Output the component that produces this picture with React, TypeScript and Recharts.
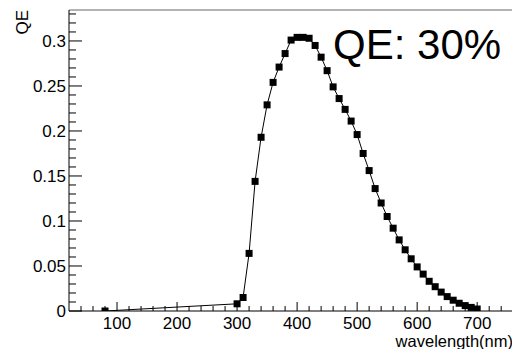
import { LineChart, Line, XAxis, YAxis, ReferenceLine } from 'recharts'

const wavelength = [
  80, 300, 310, 320, 330, 340, 350, 360, 370, 380, 390, 400, 410, 420, 430, 440, 450, 460, 470, 480,
  490, 500, 510, 520, 530, 540, 550, 560, 570, 580, 590, 600, 610, 620, 630, 640, 650, 660, 670, 680,
  690, 700,
]
const qe = [
  0, 0.008, 0.015, 0.064, 0.144, 0.193, 0.229, 0.254, 0.271, 0.286, 0.301, 0.304, 0.304, 0.303, 0.295,
  0.282, 0.267, 0.249, 0.236, 0.224, 0.211, 0.196, 0.175, 0.156, 0.136, 0.12, 0.105, 0.092, 0.079,
  0.068, 0.058, 0.049, 0.041, 0.033, 0.027, 0.021, 0.016, 0.012, 0.0086, 0.006, 0.004, 0.0022,
]

const xMajorTicks = [100, 200, 300, 400, 500, 600, 700]
const yMajorTicks = [0, 0.05, 0.1, 0.15, 0.2, 0.25, 0.3]
const xMinorTicks = [
  40, 60, 80, 120, 140, 160, 180, 220, 240, 260, 280, 320, 340, 360, 380, 420, 440, 460, 480, 520,
  540, 560, 580, 620, 640, 660, 680, 720, 740,
]
const yMinorTicks = [
  0.01, 0.02, 0.03, 0.04, 0.06, 0.07, 0.08, 0.09, 0.11, 0.12, 0.13, 0.14, 0.16, 0.17, 0.18, 0.19,
  0.21, 0.22, 0.23, 0.24, 0.26, 0.27, 0.28, 0.29, 0.31, 0.32, 0.33,
]

const data = wavelength.map((w, i) => ({ wavelength: w, qe: qe[i] }))

const W = 512
const H = 349
const LEFT = 69
const TOP = 10
const BOTTOM = 311
const FONT = '"Liberation Sans", Arial, Helvetica, sans-serif'

const xAllTicks = [...xMinorTicks, ...xMajorTicks].sort((a, b) => a - b)
const yAllTicks = [...yMinorTicks, ...yMajorTicks].sort((a, b) => a - b)

function XTick(props: any) {
  const { x, payload } = props
  const major = xMajorTicks.includes(payload.value)
  return (
    <g>
      <line x1={x} x2={x} y1={BOTTOM} y2={BOTTOM - (major ? 9 : 5)} stroke="#000" />
      {major && (
        <text x={x} y={329} textAnchor="middle" fontSize={17} fontFamily={FONT} fill="#000">
          {payload.value}
        </text>
      )}
    </g>
  )
}

function YTick(props: any) {
  const { y, payload } = props
  const major = yMajorTicks.includes(payload.value)
  return (
    <g>
      <line x1={LEFT} x2={LEFT + (major ? 13 : 7)} y1={y} y2={y} stroke="#000" />
      {major && (
        <text x={66} y={y + 6} textAnchor="end" fontSize={17} fontFamily={FONT} fill="#000">
          {String(payload.value)}
        </text>
      )}
    </g>
  )
}

function SquareDot(props: any) {
  const { cx, cy, index } = props
  return <rect key={`dot-${index}`} x={cx - 3.5} y={cy - 3.5} width={7} height={7} fill="#000" />
}

export default function App() {
  return (
    <div style={{ position: 'absolute', left: 0, top: 0, width: W, height: H, background: '#fff' }}>
      <LineChart width={W} height={H} data={data} margin={{ top: TOP, right: 0, left: 0, bottom: 0 }}>
        <XAxis
          dataKey="wavelength"
          type="number"
          domain={[20, 758]}
          ticks={xAllTicks}
          interval={0}
          height={H - BOTTOM}
          tickLine={false}
          tick={<XTick />}
          axisLine={{ stroke: '#000' }}
          allowDataOverflow
        />
        <YAxis
          dataKey="qe"
          type="number"
          domain={[0, 0.3344]}
          ticks={yAllTicks}
          interval={0}
          width={LEFT}
          tickLine={false}
          tick={<YTick />}
          axisLine={{ stroke: '#000' }}
          allowDataOverflow
        />
        <ReferenceLine y={0.3344} stroke="#666" />
        <Line
          dataKey="qe"
          type="linear"
          stroke="#000"
          strokeWidth={1}
          dot={SquareDot}
          activeDot={false}
          isAnimationActive={false}
        />
        <text x={333} y={59} fontSize={42} fontFamily={FONT} fill="#000">
          QE: 30%
        </text>
        <text x={513} y={347} textAnchor="end" fontSize={16.5} fontFamily={FONT} fill="#000">
          wavelength(nm)
        </text>
        <text transform="translate(28,10) rotate(-90)" textAnchor="end" fontSize={17} fontFamily={FONT} fill="#000">
          QE
        </text>
      </LineChart>
    </div>
  )
}
